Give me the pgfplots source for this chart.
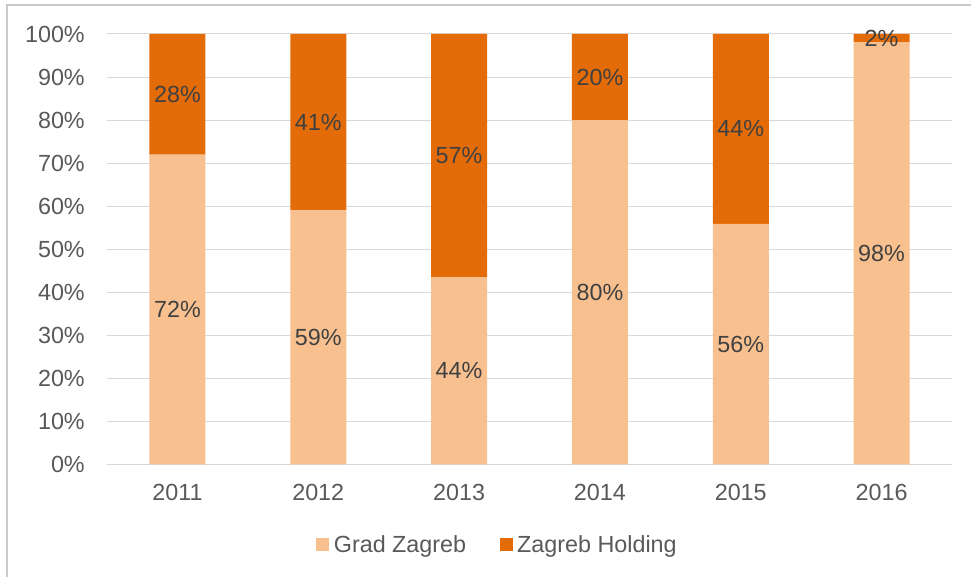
\documentclass[border=0pt]{standalone}
\usepackage{pgfplots}
\pgfplotsset{compat=1.18}
\usepackage{fontspec}
\setmainfont{Liberation Sans}
\definecolor{cLight}{HTML}{F9C08F}
\definecolor{cDark}{HTML}{E36C09}
\definecolor{cTick}{HTML}{595959}
\definecolor{cLab}{HTML}{404040}
\definecolor{cGrid}{HTML}{D9D9D9}
\definecolor{cFrame}{HTML}{C9C9C9}
\newcommand{\chfont}{\fontsize{17.5}{21}\selectfont}
\begin{document}
\begin{tikzpicture}
\useasboundingbox (0,0) rectangle (728.25pt,432.75pt);
\fill[white] (0,0) rectangle (728.25pt,432.75pt);
\draw[cFrame, line width=1pt] (5.25pt,-2pt) -- (5.25pt,429pt) -- (732pt,429pt);
\begin{axis}[
  at={(80.25pt,84.375pt)}, anchor=south west,
  width=633.75pt, height=322.875pt, scale only axis,
  ybar stacked, bar width=42pt,
  xmin=-0.5, xmax=5.5, ymin=0, ymax=100,
  xtick={0,1,2,3,4,5},
  xticklabels={2011,2012,2013,2014,2015,2016},
  ytick={0,10,...,100},
  yticklabel={\pgfmathprintnumber{\tick}\%},
  /pgf/number format/assume math mode=true,
  ymajorgrids, grid style={cGrid, line width=0.75pt},
  axis line style={draw=none},
  major tick length=0pt,
  tick label style={font=\chfont, text=cTick},
  yticklabel style={anchor=east, inner sep=0pt, xshift=-16.5pt},
  xticklabel style={anchor=north, inner sep=0pt, yshift=-14.5pt},
  legend style={at={(0.2473,-0.187)}, anchor=west, draw=none, fill=none,
    legend columns=-1, font=\chfont, text=cTick, inner sep=0pt,
    /tikz/every odd column/.append style={column sep=1.5pt},
    /tikz/every even column/.append style={column sep=23pt}},
]
\addplot[fill=cLight, draw=none, legend image code/.code={\fill[cLight] (0pt,-4.875pt) rectangle (9.75pt,4.875pt);}]
  coordinates {(0,72) (1,59) (2,43.5) (3,80) (4,55.9) (5,98.1)};
\addlegendentry{Grad Zagreb}
\addplot[fill=cDark, draw=none, legend image code/.code={\fill[cDark] (0pt,-4.875pt) rectangle (9.75pt,4.875pt);}]
  coordinates {(0,28) (1,41) (2,56.5) (3,20) (4,44.1) (5,1.9)};
\addlegendentry{Zagreb Holding}
\end{axis}
\begin{axis}[
  at={(80.25pt,84.375pt)}, anchor=south west,
  width=633.75pt, height=322.875pt, scale only axis,
  xmin=-0.5, xmax=5.5, ymin=0, ymax=100,
  hide axis,
]
\addplot[only marks, mark=text, text mark={},
  point meta=explicit symbolic, nodes near coords,
  every node near coord/.append style={anchor=center, font=\chfont, text=cLab}]
  coordinates {(0,36)[72\%] (1,29.5)[59\%] (2,21.75)[44\%] (3,40)[80\%] (4,27.95)[56\%] (5,49.05)[98\%]
               (0,86)[28\%] (1,79.5)[41\%] (2,71.75)[57\%] (3,90)[20\%] (4,77.95)[44\%] (5,99.05)[2\%]};
\end{axis}
\end{tikzpicture}
\end{document}
